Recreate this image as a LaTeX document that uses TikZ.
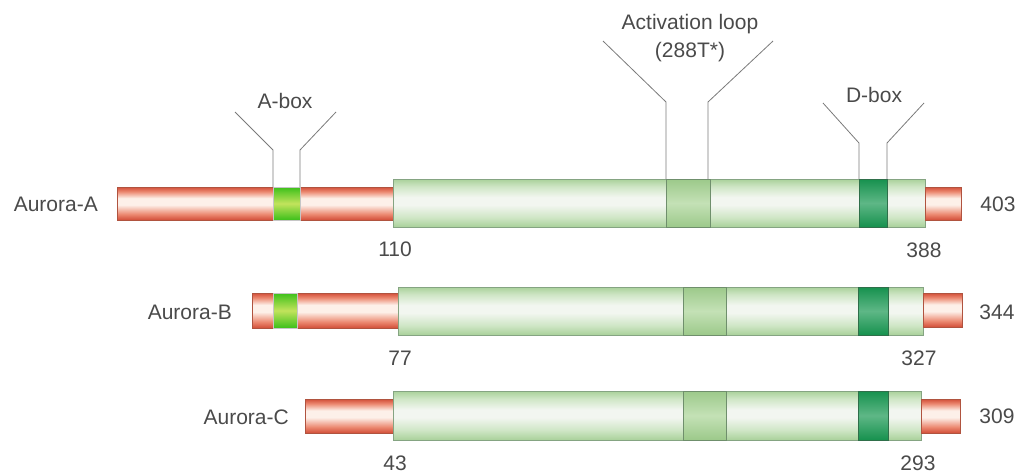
\documentclass[tikz,border=0pt]{standalone}
\usepackage{fontspec}
\setmainfont{Liberation Sans}
\definecolor{redEdge}{HTML}{D24E38}
\definecolor{redHalf}{HTML}{EC8A72}
\definecolor{redMid}{HTML}{FDF0E9}
\definecolor{redLine}{HTML}{B0533F}
\definecolor{kinEdge}{HTML}{A9D19A}
\definecolor{kinHalf}{HTML}{CFE6C6}
\definecolor{kinMid}{HTML}{F2F6F0}
\definecolor{kinLine}{HTML}{85A482}
\definecolor{loopEdge}{HTML}{9CC98A}
\definecolor{loopMid}{HTML}{C4E1B6}
\definecolor{loopLine}{HTML}{6F8F6C}
\definecolor{dEdge}{HTML}{16914E}
\definecolor{dMid}{HTML}{5EB786}
\definecolor{dLine}{HTML}{2F6F4A}
\definecolor{aEdge}{HTML}{3CC01A}
\definecolor{aMid}{HTML}{C2E35C}
\definecolor{textGray}{HTML}{4A4A4A}
\definecolor{lineGray}{HTML}{7A7A7A}
% tube-like vertical shadings (the filled area maps to 25bp..75bp)
\pgfdeclareverticalshading{redtube}{100bp}{color(0bp)=(redEdge); color(25bp)=(redEdge);
  color(34bp)=(redHalf); color(48bp)=(redMid); color(58bp)=(redMid); color(68bp)=(redHalf);
  color(75bp)=(redEdge); color(100bp)=(redEdge)}
\pgfdeclareverticalshading{kintube}{100bp}{color(0bp)=(kinEdge); color(25bp)=(kinEdge);
  color(35bp)=(kinHalf); color(48bp)=(kinMid); color(56bp)=(kinMid); color(67bp)=(kinHalf);
  color(75bp)=(kinEdge); color(100bp)=(kinEdge)}
\begin{document}
\begin{tikzpicture}[x=1pt,y=-1pt,
  seg/.style={inner sep=0pt,outer sep=0pt,anchor=north west,shading=axis},
  redbar/.style={seg,draw=redLine,line width=0.5pt,shading=redtube},
  kinase/.style={seg,draw=kinLine,line width=0.7pt,shading=kintube},
  aloop/.style={seg,draw=loopLine,line width=0.7pt,
    top color=loopEdge,bottom color=loopEdge,middle color=loopMid},
  dbox/.style={seg,draw=dLine,line width=0.6pt,
    top color=dEdge,bottom color=dEdge,middle color=dMid},
  abox/.style={seg,draw=gray!45,line width=0.6pt,
    top color=aEdge,bottom color=aEdge,middle color=aMid},
  lbl/.style={inner sep=0pt,font=\fontsize{21}{25}\selectfont,text=textGray},
  callout/.style={draw=lineGray,line width=0.8pt}]
\useasboundingbox (0,0) rectangle (1019,474);
\newcommand\seg[6]{\node[#2,minimum width={#5-#3},minimum height={#6-#4}] (#1) at (#3,#4) {};}

% Aurora-A
\seg{a-n}{redbar}{117}{187}{393}{220}
\seg{a-abox}{abox}{273}{187}{300}{220}
\seg{a-kin}{kinase}{393}{179}{925}{227}
\seg{a-loop}{aloop}{666}{179}{710}{227}
\seg{a-dbox}{dbox}{859}{179}{887}{227}
\seg{a-c}{redbar}{925}{187}{961}{220}

% Aurora-B
\seg{b-n}{redbar}{252}{293}{398}{328}
\seg{b-abox}{abox}{273}{293}{297}{328}
\seg{b-kin}{kinase}{398}{287}{923}{335}
\seg{b-loop}{aloop}{683}{287}{726}{335}
\seg{b-dbox}{dbox}{858}{287}{888}{335}
\seg{b-c}{redbar}{923}{293}{962}{327}

% Aurora-C
\seg{c-n}{redbar}{305}{399}{393}{433}
\seg{c-kin}{kinase}{393}{391}{921}{440}
\seg{c-loop}{aloop}{683}{391}{726}{440}
\seg{c-dbox}{dbox}{858}{391}{888}{440}
\seg{c-c}{redbar}{921}{399}{960}{433}

% protein names
\node[lbl,anchor=east] (a-name) at (98,204) {Aurora-A};
\node[lbl,anchor=east] (b-name) at (232,312) {Aurora-B};
\node[lbl,anchor=east] (c-name) at (289,417) {Aurora-C};

% residue numbers
\node[lbl] (a-110) at (395,249) {110};
\node[lbl] (a-388) at (924,250) {388};
\node[lbl] (a-403) at (998,204) {403};
\node[lbl] (b-77)  at (400,358) {77};
\node[lbl] (b-327) at (919,358) {327};
\node[lbl] (b-344) at (997,312) {344};
\node[lbl] (c-43)  at (395,463) {43};
\node[lbl] (c-293) at (918,463) {293};
\node[lbl] (c-309) at (997,416) {309};

% motif labels
\node[lbl] (t-abox) at (285,101) {A-box};
\node[lbl] (t-dbox) at (874,95) {D-box};
\node[lbl,align=center] (t-loop) at (690,38) {Activation loop\\[3pt](288T*)};

% callout lines
\coordinate (ab-l) at (235,112);
\coordinate (ab-r) at (336,112);
\coordinate (lp-l) at (603,41);
\coordinate (lp-r) at (773,41);
\coordinate (db-l) at (823,103);
\coordinate (db-r) at (924,103);
\draw[callout] (a-abox.north west) -- ++(0,-37) -- (ab-l);
\draw[callout] (a-abox.north east) -- ++(0,-37) -- (ab-r);
\draw[callout] (a-loop.north west) -- ++(0,-77) -- (lp-l);
\draw[callout] (a-loop.north east) ++(-2,0) -- ++(0,-77) -- (lp-r);
\draw[callout] (a-dbox.north west) -- ++(0,-36) -- (db-l);
\draw[callout] (a-dbox.north east) -- ++(0,-36) -- (db-r);
\end{tikzpicture}
\end{document}
